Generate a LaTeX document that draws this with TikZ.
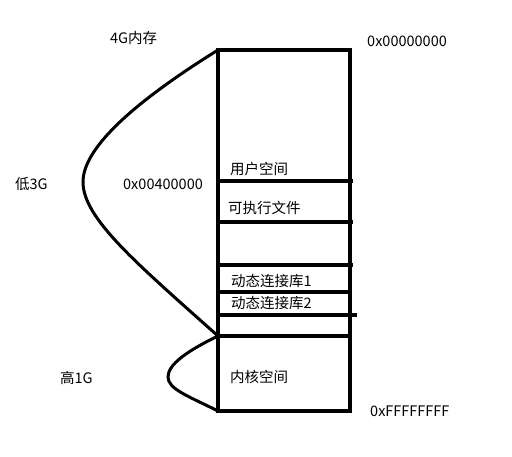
\documentclass[tikz,border=0pt]{standalone}
\usepackage{fontspec}
\setmainfont{Noto Sans CJK SC}
\begin{document}
\begin{tikzpicture}[x=1pt,y=-1pt,
  thick line/.style={line width=3.5pt,line cap=rect},
  lbl/.style={font=\fontsize{14.5}{16}\selectfont,inner sep=0pt,anchor=west}]
\useasboundingbox (0,0) rectangle (512,457);
% corners
\coordinate (tl) at (218,50);
\coordinate (tr) at (350,50);
\coordinate (bl) at (218,411);
\coordinate (br) at (350,411);
\coordinate (mid) at (218,336);
\draw[thick line,line join=miter] (tl) -- (tr) -- (br) -- (bl) -- cycle;
% separators
\coordinate (s1l) at (218,181); \coordinate (s1r) at (353,181);
\coordinate (s2l) at (218,222); \coordinate (s2r) at (353,222);
\coordinate (s3l) at (218,265); \coordinate (s3r) at (353,265);
\coordinate (s4l) at (218,292); \coordinate (s4r) at (350,292);
\coordinate (s5l) at (218,315); \coordinate (s5r) at (357,315);
\coordinate (s6l) at (218,336); \coordinate (s6r) at (350,336);
\foreach \i in {1,...,6} \draw[line width=3.5pt] (s\i l) -- (s\i r);
% curves
\draw[line width=3pt] (tl) .. controls (128,106) and (83,150) .. (83,182)
  .. controls (83,218) and (135,262) .. (mid);
\draw[line width=3pt] (mid) .. controls (185,352) and (168,365) .. (168,377)
  .. controls (168,389) and (188,396) .. (bl);
% labels inside
\node[lbl] (user) at (230,169) {用户空间};
\node[lbl] (exe) at (228,208) {可执行文件};
\node[lbl] (dll1) at (231,281) {动态连接库1};
\node[lbl] (dll2) at (231,303) {动态连接库2};
\node[lbl] (kern) at (230,377) {内核空间};
% outer labels
\node[lbl] (mem) at (110,38) {4G内存};
\node[lbl] (low) at (15,184) {低3G};
\node[lbl] (addr4) at (123,184) {0x00400000};
\node[lbl] (high) at (60,378) {高1G};
\node[lbl] (addr0) at (367,41) {0x00000000};
\node[lbl] (addrF) at (370,411) {0xFFFFFFFF};
\end{tikzpicture}
\end{document}
